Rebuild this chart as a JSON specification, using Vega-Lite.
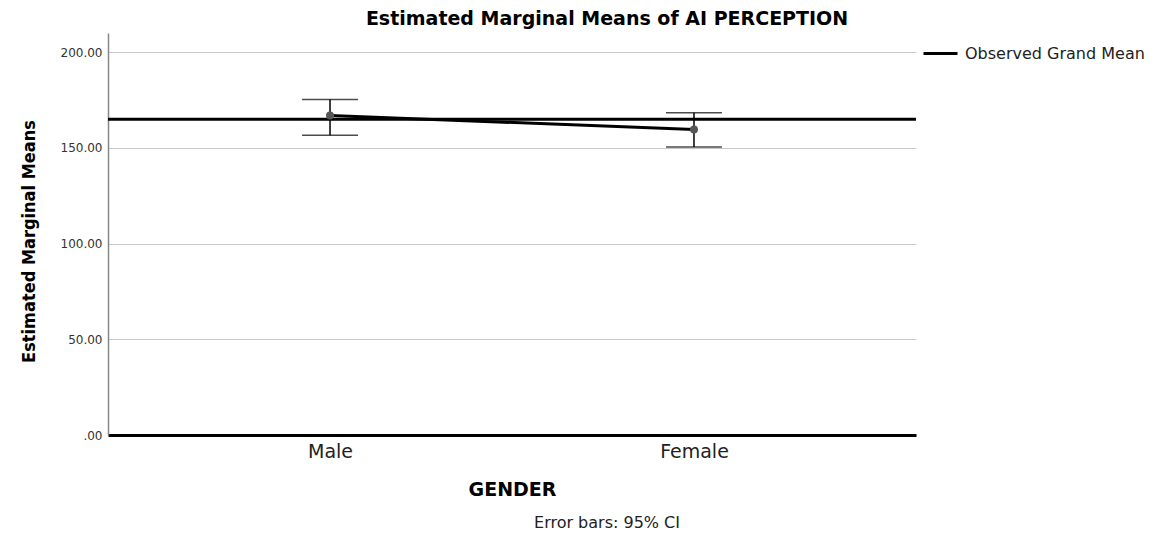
{
  "$schema": "https://vega.github.io/schema/vega-lite/v6.json",
  "autosize": "none",
  "width": 808,
  "height": 402,
  "padding": {"left": 108, "top": 33, "right": 239, "bottom": 98},
  "background": "white",
  "config": {
    "view": {"stroke": null},
    "font": "DejaVu Sans"
  },
  "title": {
    "text": "Estimated Marginal Means of AI PERCEPTION",
    "font": "DejaVu Sans",
    "fontSize": 19,
    "fontWeight": "bold",
    "color": "black",
    "anchor": "middle",
    "frame": "group",
    "dx": 95,
    "baseline": "alphabetic",
    "offset": -11
  },
  "datasets": {
    "means": [
      {"gender": "Male", "mean": 166.9, "lower": 156.6, "upper": 175.3},
      {"gender": "Female", "mean": 159.6, "lower": 150.5, "upper": 168.3}
    ],
    "grand": [
      {"series": "Observed Grand Mean", "value": 165.0}
    ],
    "note": [
      {"text": "Error bars: 95% CI"}
    ]
  },
  "layer": [
    {
      "data": {"name": "means"},
      "mark": {"type": "rule", "color": "black", "strokeWidth": 1.5},
      "encoding": {
        "x": {
          "field": "gender", "type": "nominal", "sort": ["Male", "Female"],
          "scale": {"type": "point", "padding": 0.61},
          "axis": {
            "title": "GENDER",
            "titleFont": "DejaVu Sans", "titleFontSize": 19, "titleFontWeight": "bold", "titleColor": "black",
            "titlePadding": 19,
            "labelAngle": 0,
            "labelFont": "DejaVu Sans", "labelFontSize": 19, "labelColor": "#222", "labelPadding": 7,
            "ticks": false, "grid": false,
            "domainColor": "black", "domainWidth": 3
          }
        },
        "y": {
          "field": "lower", "type": "quantitative",
          "scale": {"domain": [0, 210], "nice": false, "zero": true},
          "axis": {
            "title": "Estimated Marginal Means",
            "titleFont": "'DejaVu Sans Condensed', 'Liberation Sans', sans-serif", "titleFontSize": 18, "titleFontWeight": "bold", "titleColor": "black",
            "titlePadding": 22,
            "titleY": 208,
            "values": [0, 50, 100, 150, 200],
            "labelExpr": "datum.value == 0 ? '.00' : format(datum.value, '.2f')",
            "labelFont": "DejaVu Sans", "labelFontSize": 12, "labelColor": "#333", "labelPadding": 6,
            "ticks": false,
            "domainColor": "#888", "domainWidth": 1.5,
            "grid": true, "gridColor": "#c8c8c8", "gridWidth": 1
          }
        },
        "y2": {"field": "upper"}
      }
    },
    {
      "data": {"name": "means"},
      "mark": {"type": "tick", "color": "black", "size": 56, "thickness": 1.5, "orient": "horizontal"},
      "encoding": {
        "x": {"field": "gender", "type": "nominal", "sort": ["Male", "Female"]},
        "y": {"field": "lower", "type": "quantitative"}
      }
    },
    {
      "data": {"name": "means"},
      "mark": {"type": "tick", "color": "black", "size": 56, "thickness": 1.5, "orient": "horizontal"},
      "encoding": {
        "x": {"field": "gender", "type": "nominal", "sort": ["Male", "Female"]},
        "y": {"field": "upper", "type": "quantitative"}
      }
    },
    {
      "data": {"name": "grand"},
      "mark": {"type": "rule", "strokeWidth": 3},
      "encoding": {
        "y": {"field": "value", "type": "quantitative"},
        "color": {
          "field": "series", "type": "nominal",
          "scale": {"domain": ["Observed Grand Mean"], "range": ["black"]},
          "legend": {
            "title": null,
            "orient": "none",
            "legendX": 814,
            "legendY": 2,
            "padding": 0,
            "symbolType": "stroke",
            "symbolSize": 1156,
            "symbolStrokeWidth": 3,
            "labelFont": "DejaVu Sans",
            "labelFontSize": 16,
            "labelColor": "#222",
            "labelOffset": 6,
            "labelLimit": 400
          }
        }
      }
    },
    {
      "data": {"name": "means"},
      "mark": {"type": "line", "color": "black", "strokeWidth": 3},
      "encoding": {
        "x": {"field": "gender", "type": "nominal", "sort": ["Male", "Female"]},
        "y": {"field": "mean", "type": "quantitative"}
      }
    },
    {
      "data": {"name": "means"},
      "mark": {"type": "point", "filled": true, "shape": "circle", "size": 64, "color": "#555", "opacity": 1},
      "encoding": {
        "x": {"field": "gender", "type": "nominal", "sort": ["Male", "Female"]},
        "y": {"field": "mean", "type": "quantitative"}
      }
    },
    {
      "data": {"name": "note"},
      "mark": {"type": "text", "font": "DejaVu Sans", "fontSize": 16, "color": "#222", "align": "center", "baseline": "middle"},
      "encoding": {
        "text": {"field": "text"},
        "x": {"value": 499},
        "y": {"value": 490}
      }
    }
  ]
}
